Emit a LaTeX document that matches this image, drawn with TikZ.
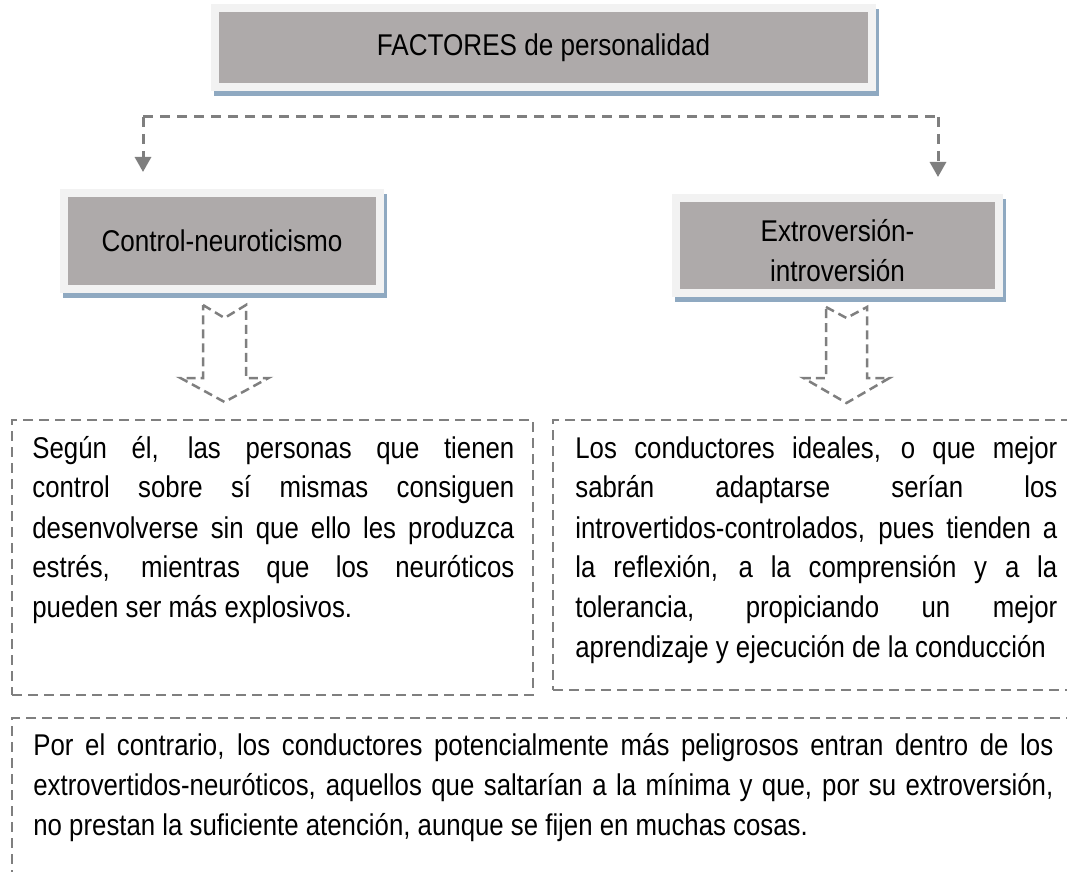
\documentclass[tikz,border=0pt]{standalone}
\usepackage{fontspec}
\setmainfont{Liberation Sans}[FakeStretch=0.87]
\newfontfamily\bodyfont{Liberation Sans}[FakeStretch=0.86]
\usetikzlibrary{arrows.meta}
\definecolor{boxgray}{RGB}{174,170,170}
\definecolor{boxframe}{RGB}{242,242,242}
\definecolor{boxshadow}{RGB}{143,169,193}
\definecolor{linegray}{RGB}{127,127,127}
% justified body paragraph, first baseline on top
\newcommand{\bodypar}[2]{\parbox[t]{#1}{\bodyfont\fontsize{15}{20}\selectfont
  \hyphenpenalty=10000 \exhyphenpenalty=10000 #2}}

\begin{document}
\begin{tikzpicture}[x=0.5pt, y=-0.5pt,
    titlebox/.style ={rectangle, fill=boxgray, draw=boxframe, line width=4pt, inner sep=0pt, align=center,
      font=\fontsize{15}{20}\selectfont,
      preaction={draw=boxshadow, fill=boxshadow, transform canvas={xshift=1.5pt, yshift=-2.5pt}}},
    link/.style ={draw=linegray, line width=1.5pt, dash pattern=on 5pt off 3.5pt},
    hollowarrow/.style ={draw=linegray, line width=1.25pt, dash pattern=on 4.5pt off 2.5pt},
    textframe/.style ={rectangle, draw=linegray, line width=1.25pt, dash pattern=on 5pt off 3pt,
      inner sep=0pt, outer sep=0pt, anchor=north west},
    bodytext/.style ={inner sep=0pt, anchor=base west}]
   \clip (0,0) rectangle (1067,872);

   % title boxes
   \node[titlebox, minimum width=328.5pt, minimum height=39.5pt] (factores) at (543.5,47.5) {FACTORES de personalidad};
   \node[titlebox, minimum width=158pt, minimum height=48pt] (control) at (222,241) {Control-neuroticismo};
   \node[titlebox, minimum width=161.5pt, minimum height=47.5pt] (extro) at (837.5,245.5) {\rule{0pt}{16.5pt}Extroversión-\\introversión};

   % split connector
   \coordinate (splitl) at (143,117);
   \coordinate (splitr) at (938,117);
   \draw[link] (splitl) -- (splitr);
   \draw[link, -{Triangle[length=7.5pt, width=8pt]}, shorten >=8.5pt] (splitl) -- (splitl |- control.north);
   \draw[link, -{Triangle[length=7.5pt, width=8pt]}, shorten >=8.5pt] (splitr) -- (splitr |- extro.north);

   % hollow arrows
   \coordinate (ctrltail) at (224.5,305);
   \coordinate (extrotail) at (846.5,307);
   \draw[hollowarrow] (ctrltail) ++(-21.5,0) -- ++(21.5,13) -- ++(21.5,-13) -- ++(0,73) -- ++(22.5,0)
      -- ++(-44,24) -- ++(-44,-24) -- ++(22.5,0) -- cycle;
   \draw[hollowarrow] (extrotail) ++(-20.5,0) -- ++(20.5,11) -- ++(20.5,-11) -- ++(0,71) -- ++(22.5,0)
      -- ++(-43,25) -- ++(-43,-25) -- ++(22.5,0) -- cycle;

   % text boxes
   \node[textframe, minimum width=260.5pt, minimum height=137.5pt] (ctrlframe) at (12,420) {};
   \node[textframe, minimum width=270pt, minimum height=135pt] (extroframe) at (553,420) {};
   \node[textframe, minimum width=540pt, minimum height=100pt] (riskframe) at (12,718) {};

   \node[bodytext] (ctrltext) at ([shift={(20,38)}]ctrlframe.north west)
      {\bodypar{241pt}{Según él, las personas que tienen\linebreak control sobre sí mismas consiguen\linebreak
       desenvolverse sin que ello les produzca\linebreak estrés, mientras que los neuróticos\linebreak
       pueden ser más explosivos.}};
   \node[bodytext] (extrotext) at ([shift={(22,38)}]extroframe.north west)
      {\bodypar{241pt}{Los conductores ideales, o que mejor\linebreak sabrán adaptarse serían los\linebreak
       introvertidos-controlados, pues tienden a\linebreak la reflexión, a la comprensión y a la\linebreak
       tolerancia, propiciando un mejor\linebreak aprendizaje y ejecución de la conducción}};
   \node[bodytext] (risktext) at ([shift={(21,37)}]riskframe.north west)
      {\bodypar{510pt}{Por el contrario, los conductores potencialmente más peligrosos entran dentro de los\linebreak
       extrovertidos-neuróticos, aquellos que saltarían a la mínima y que, por su extroversión,\linebreak
       no prestan la suficiente atención, aunque se fijen en muchas cosas.}};

 \end{tikzpicture}
\end{document}
